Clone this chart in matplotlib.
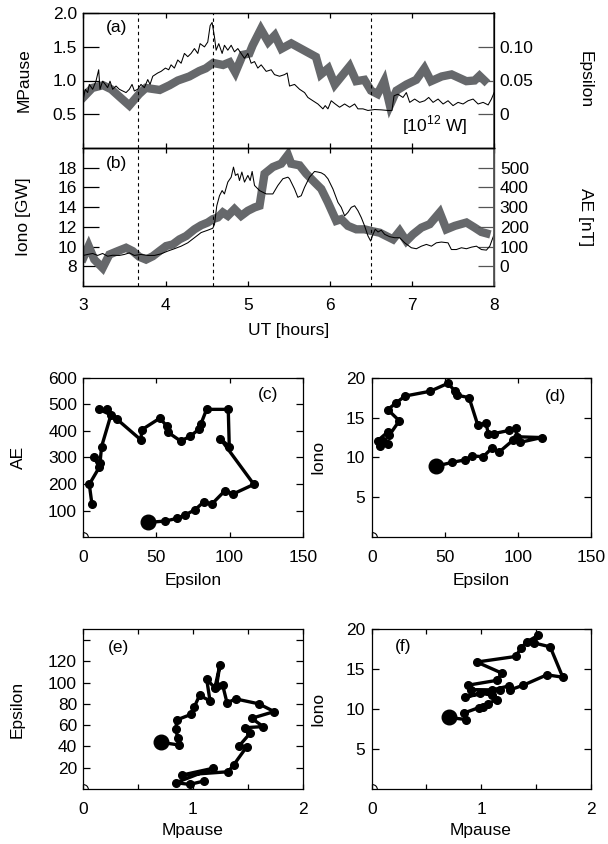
import matplotlib
matplotlib.use('Agg')
import matplotlib.pyplot as plt

plt.rcParams['font.family'] = ['Liberation Sans', 'DejaVu Sans']
plt.rcParams['mathtext.fontset'] = 'custom'
plt.rcParams['mathtext.rm'] = 'Liberation Sans'
plt.rcParams['font.size'] = 12.5

# ---- panel (a): epsilon (thick grey, right axis) and magnetopause (thin black, left axis)
eps_t = [3.00, 3.11, 3.24, 3.34, 3.44, 3.56, 3.68, 3.76, 3.93, 4.05, 4.15, 4.29, 4.41,
         4.49, 4.58, 4.70, 4.78, 4.85, 4.94, 5.02, 5.06, 5.16, 5.25, 5.33, 5.41, 5.53,
         5.65, 5.83, 5.89, 5.98, 6.06, 6.24, 6.32, 6.42, 6.50, 6.58, 6.66, 6.73, 6.81,
         6.93, 7.05, 7.15, 7.23, 7.36, 7.48, 7.66, 7.76, 7.82, 7.88]
eps_v = [0.025, 0.039, 0.043, 0.037, 0.026, 0.013, 0.030, 0.039, 0.036, 0.043, 0.050,
         0.056, 0.064, 0.068, 0.076, 0.073, 0.077, 0.062, 0.088, 0.090, 0.102, 0.126,
         0.107, 0.117, 0.097, 0.105, 0.097, 0.085, 0.059, 0.068, 0.044, 0.071, 0.049,
         0.051, 0.035, 0.030, 0.049, 0.013, 0.035, 0.044, 0.051, 0.068, 0.049, 0.056,
         0.059, 0.049, 0.050, 0.057, 0.050]

mp_t = [3.000, 3.024, 3.053, 3.073, 3.114, 3.154, 3.187, 3.203, 3.235, 3.268, 3.296,
        3.325, 3.357, 3.398, 3.438, 3.479, 3.520, 3.560, 3.593, 3.621, 3.662, 3.702,
        3.743, 3.784, 3.812, 3.845, 3.905, 3.946, 3.999, 4.039, 4.068, 4.108, 4.149,
        4.190, 4.230, 4.271, 4.311, 4.352, 4.393, 4.421, 4.474, 4.514, 4.543, 4.567,
        4.596, 4.616, 4.648, 4.689, 4.717, 4.758, 4.799, 4.839, 4.880, 4.920, 4.961,
        5.002, 5.042, 5.083, 5.123, 5.164, 5.225, 5.286, 5.326, 5.387, 5.448, 5.480,
        5.509, 5.570, 5.631, 5.692, 5.732, 5.793, 5.854, 5.915, 5.943, 5.976, 6.016,
        6.065, 6.118, 6.179, 6.240, 6.301, 6.341, 6.402, 6.463, 6.544, 6.625, 6.707,
        6.755, 6.780, 6.828, 6.889, 6.930, 6.971, 7.031, 7.092, 7.153, 7.202, 7.255,
        7.316, 7.377, 7.437, 7.498, 7.559, 7.620, 7.681, 7.742, 7.803, 7.864, 7.925,
        7.965, 7.998]
mp_v = [0.725, 0.870, 0.821, 0.942, 0.870, 0.990, 1.159, 0.870, 0.990, 0.942, 0.894,
        0.990, 0.870, 0.918, 0.870, 0.845, 0.821, 0.870, 0.942, 0.845, 0.870, 0.942,
        0.894, 1.014, 0.942, 1.063, 1.111, 1.135, 1.184, 1.159, 1.232, 1.184, 1.304,
        1.256, 1.401, 1.353, 1.401, 1.473, 1.401, 1.546, 1.498, 1.570, 1.812, 1.860,
        1.643, 1.449, 1.546, 1.401, 1.522, 1.449, 1.522, 1.425, 1.473, 1.401, 1.329,
        1.401, 1.256, 1.280, 1.184, 1.232, 1.135, 1.159, 1.087, 1.063, 1.087, 1.111,
        0.918, 0.942, 0.870, 0.821, 0.749, 0.700, 0.652, 0.580, 0.628, 0.580, 0.700,
        0.652, 0.604, 0.652, 0.604, 0.652, 0.580, 0.580, 0.556, 0.570, 0.565, 0.556,
        0.556, 0.773, 0.797, 0.749, 0.821, 0.676, 0.725, 0.676, 0.700, 0.749, 0.676,
        0.725, 0.652, 0.700, 0.628, 0.676, 0.652, 0.700, 0.725, 0.652, 0.676, 0.638,
        0.725, 0.821]

# ---- panel (b): ionospheric power (thick grey, left) and AE (thin black, right)
iono_t = [3.000, 3.065, 3.134, 3.235, 3.317, 3.418, 3.520, 3.601, 3.682, 3.763, 3.845,
          3.926, 4.007, 4.088, 4.170, 4.251, 4.352, 4.433, 4.514, 4.575, 4.636, 4.697,
          4.758, 4.839, 4.920, 5.002, 5.083, 5.144, 5.205, 5.306, 5.408, 5.489, 5.529,
          5.631, 5.712, 5.813, 5.895, 5.976, 6.077, 6.138, 6.219, 6.321, 6.422, 6.504,
          6.605, 6.686, 6.768, 6.849, 6.930, 7.011, 7.113, 7.214, 7.336, 7.417, 7.519,
          7.661, 7.762, 7.843, 7.904]
iono_v = [8.85, 10.05, 8.68, 7.83, 9.19, 9.54, 9.88, 9.54, 8.96, 8.68, 9.02, 9.54, 10.05,
          10.22, 10.73, 11.07, 11.75, 12.16, 12.44, 12.78, 12.95, 13.46, 13.12, 13.80,
          13.12, 13.63, 13.97, 14.14, 17.39, 18.07, 18.41, 19.30, 18.41, 18.24, 17.39,
          16.53, 15.85, 14.48, 12.61, 12.78, 12.10, 11.75, 11.75, 11.58, 11.41, 11.07,
          10.73, 11.58, 10.56, 11.24, 11.92, 12.27, 13.46, 11.75, 12.10, 12.44, 11.92,
          11.48, 11.34]

ae_t = [3.000, 3.053, 3.114, 3.175, 3.235, 3.296, 3.357, 3.438, 3.499, 3.560, 3.621,
        3.702, 3.784, 3.865, 3.946, 4.027, 4.108, 4.190, 4.271, 4.352, 4.433, 4.514,
        4.575, 4.596, 4.624, 4.657, 4.689, 4.717, 4.758, 4.799, 4.827, 4.851, 4.880,
        4.900, 4.929, 4.961, 5.002, 5.030, 5.054, 5.083, 5.144, 5.225, 5.306, 5.367,
        5.428, 5.489, 5.509, 5.570, 5.610, 5.651, 5.692, 5.752, 5.813, 5.854, 5.895,
        5.935, 5.976, 6.037, 6.098, 6.138, 6.179, 6.219, 6.260, 6.301, 6.341, 6.382,
        6.422, 6.463, 6.496, 6.524, 6.552, 6.585, 6.625, 6.666, 6.727, 6.788, 6.849,
        6.910, 6.991, 7.052, 7.113, 7.174, 7.235, 7.295, 7.356, 7.437, 7.478, 7.539,
        7.600, 7.661, 7.722, 7.783, 7.843, 7.904, 7.945, 7.998]
ae_v = [55, 60, 65, 55, 65, 51, 56, 55, 60, 68, 55, 60, 55, 55, 63, 77, 89, 102, 119,
        145, 171, 183, 193, 213, 307, 358, 384, 367, 427, 452, 503, 461, 469, 435, 478,
        427, 461, 435, 481, 410, 384, 367, 367, 410, 444, 452, 444, 392, 350, 358, 401,
        452, 481, 478, 474, 464, 444, 392, 324, 299, 256, 273, 299, 307, 282, 247, 205,
        154, 128, 162, 188, 174, 183, 162, 150, 145, 145, 119, 94, 89, 102, 111, 102,
        119, 123, 119, 85, 85, 94, 89, 97, 102, 85, 82, 102, 162]

event_times = [3.67, 4.58, 6.5]

# ---- scatter panels
c_eps = [44.4, 55.8, 64.2, 69.5, 76.3, 82.5, 87.7, 96.8, 102.5, 116.6, 93.8, 99.8, 99.1,
         84.3, 80.4, 79.0, 72.9, 66.5, 58.1, 56.9, 52.4, 39.9, 39.4, 22.8, 16.4, 10.9,
         18.9, 12.5, 11.4, 7.5, 10.9, 4.1, 5.9]
c_ae = [56, 61, 71, 84, 103, 134, 124, 175, 163, 199, 370, 341, 481, 481, 426, 406, 379,
        362, 394, 419, 448, 404, 366, 445, 481, 481, 460, 341, 278, 300, 263, 199, 125]

d_eps = [43.8, 55.3, 63.9, 68.5, 76.4, 82.2, 87.4, 97.0, 101.6, 116.4, 99.3, 98.8, 94.3,
         83.8, 79.9, 78.3, 72.6, 66.7, 58.7, 57.1, 52.3, 40.0, 22.8, 16.4, 11.0, 18.9,
         12.1, 11.0, 4.1, 5.7, 11.4, 7.5]
d_iono = [8.9, 9.4, 9.7, 10.2, 10.1, 11.15, 10.7, 12.2, 11.9, 12.5, 12.6, 13.66, 13.4,
          13.0, 12.95, 14.3, 14.1, 17.5, 17.8, 18.3, 19.3, 18.3, 17.7, 16.8, 16.0, 14.6,
          12.8, 13.2, 12.1, 11.5, 11.7, 12.1]

e_mp = [0.71, 0.875, 0.86, 0.845, 0.85, 0.98, 1.01, 1.06, 1.155, 1.125, 1.20, 1.245,
        1.215, 1.27, 1.31, 1.39, 1.60, 1.74, 1.535, 1.64, 1.475, 1.52, 1.42, 1.49, 1.37,
        1.32, 0.90, 1.18, 0.845, 0.97, 1.10]
e_eps = [43.8, 41.3, 47.6, 56.0, 64.8, 70.0, 76.7, 88.0, 82.7, 103.0, 95.0, 116.5, 96.8,
         97.7, 81.0, 84.6, 80.0, 72.7, 66.4, 58.6, 57.6, 52.3, 40.4, 39.7, 22.5, 16.2,
         13.1, 19.4, 5.9, 4.3, 7.5]

f_mp = [0.706, 0.86, 0.84, 0.98, 1.02, 1.065, 1.14, 1.10, 0.99, 0.85, 1.17, 0.91, 0.88,
        1.14, 1.19, 0.96, 1.315, 1.36, 1.415, 1.52, 1.48, 1.63, 1.745, 1.60, 1.385, 1.26,
        1.25, 1.10]
f_iono = [8.96, 8.7, 9.5, 10.2, 10.3, 10.7, 11.2, 11.75, 12.0, 11.5, 12.4, 12.45, 13.0,
          13.6, 14.5, 15.9, 16.6, 17.6, 18.4, 19.25, 18.3, 17.8, 14.0, 14.3, 13.0, 12.4,
          12.9, 12.4]

GREY = '#66686b'
W, H = 608, 844


def box(l, r, t, b):
    return [l / W, 1 - b / H, (r - l) / W, (b - t) / H]


def ftext(x, y, s, **kw):
    fig.text(x / W, 1 - y / H, s, ha='center', va='center', **kw)


def style_spines(ax):
    for s in ax.spines.values():
        s.set_linewidth(0.9)


fig = plt.figure(figsize=(6.08, 8.44), dpi=100)

axA = fig.add_axes(box(83.3, 494.3, 13, 148))
axB = fig.add_axes(box(83.3, 494.3, 148, 286))
axA2 = axA.twinx()
axB2 = axB.twinx()

# (a)
axA.set_zorder(2)
axA2.set_zorder(1)
axA.patch.set_visible(False)
axA2.plot(eps_t, eps_v, color=GREY, lw=6, solid_joinstyle='miter')
axA.plot(mp_t, mp_v, color='black', lw=0.75)
axA.set_xlim(3, 8)
axA.set_ylim(0, 2.0)
axA2.set_ylim(-0.05, 0.15)
axA.set_yticks([0.5, 1.0, 1.5, 2.0])
axA.set_yticklabels(['0.5', '1.0', '1.5', '2.0'])
axA2.set_yticks([0, 0.05, 0.10])
axA2.set_yticklabels(['0', '0.05', '0.10'])
axA.text(3.4, 1.79, '(a)', ha='center', va='center')
axA.text(7.27, 0.34, '[10$^{12}$ W]', ha='center', va='center')

# (b)
axB.plot(iono_t, iono_v, color=GREY, lw=6, solid_joinstyle='miter')
axB2.plot(ae_t, ae_v, color='black', lw=0.75)
axB.set_xlim(3, 8)
axB.set_ylim(6, 20)
axB2.set_ylim(-100, 600)
axB.set_yticks([8, 10, 12, 14, 16, 18])
axB2.set_yticks([0, 100, 200, 300, 400, 500])
axB.text(3.4, 18.4, '(b)', ha='center', va='center')

for ax in (axA, axB):
    for t in event_times:
        ax.axvline(t, color='black', lw=0.8, ls=(0, (3, 3)), zorder=3)
    ax.set_xticks([3, 4, 5, 6, 7, 8])
    ax.tick_params(axis='x', direction='in', top=True, bottom=True, length=3.8,
                   width=0.9, pad=9)
    ax.tick_params(axis='y', direction='in', left=True, right=False, length=11.5,
                   width=0.9, pad=4.5)
    style_spines(ax)
for ax in (axA2, axB2):
    ax.tick_params(axis='y', direction='in', left=False, right=True, length=11.5,
                   width=0.9, pad=4, color='#555555')
    style_spines(ax)
    ax.spines['right'].set_color('#555555')
    ax.spines['right'].set_linewidth(1.3)
axA.tick_params(axis='x', labelbottom=False)

ftext(24, 80, 'MPause', rotation=90)
ftext(24, 217, 'Iono [GW]', rotation=90)
ftext(585, 80, 'Epsilon', rotation=270)
ftext(585, 217, 'AE [nT]', rotation=270)
ftext(289, 331, 'UT [hours]')

# scatter panels
axC = fig.add_axes(box(83.3, 302.7, 377.7, 537.3))
axD = fig.add_axes(box(371.7, 590.7, 377.7, 537.3))
axE = fig.add_axes(box(83.3, 302.7, 629.3, 789))
axF = fig.add_axes(box(371.7, 590.7, 629.3, 789))

panels = [
    (axC, c_eps, c_ae, '(c)', (126, 535)),
    (axD, d_eps, d_iono, '(d)', (125.6, 17.6)),
    (axE, e_mp, e_eps, '(e)', (0.32, 133)),
    (axF, f_mp, f_iono, '(f)', (0.29, 17.8)),
]
for ax, xs, ys, lab, lpos in panels:
    ax.plot(xs, ys, color='black', lw=2.4, marker='o', ms=5.5, zorder=3)
    ax.plot(xs[0], ys[0], 'o', color='black', ms=10.5, zorder=4)
    ax.plot([0], [0], 'o', ms=7, mfc='none', mec='black', mew=0.8)
    ax.text(lpos[0], lpos[1], lab, ha='center', va='center')
    ax.tick_params(axis='x', direction='in', top=True, bottom=True, length=3.6,
                   width=0.9, pad=9.5)
    ax.tick_params(axis='y', direction='in', left=True, right=True, length=5,
                   width=0.9, pad=4.5)
    style_spines(ax)

for ax in (axC, axD):
    ax.set_xlim(0, 150)
    ax.set_xticks([0, 50, 100, 150])
axC.set_ylim(0, 600)
axC.set_yticks([100, 200, 300, 400, 500, 600])
axD.set_ylim(0, 20)
axD.set_yticks([5, 10, 15, 20])

for ax in (axE, axF):
    ax.set_xlim(0, 2)
    ax.set_xticks([0, 0.5, 1, 1.5, 2])
    ax.set_xticklabels(['0', '', '1', '', '2'])
axE.set_ylim(0, 150)
axE.set_yticks([20, 40, 60, 80, 100, 120, 140])
axE.set_yticklabels(['20', '40', '60', '80', '100', '120', ''])
axF.set_ylim(0, 20)
axF.set_yticks([5, 10, 15, 20])

ftext(18, 457, 'AE', rotation=90)
ftext(193, 580, 'Epsilon')
ftext(318, 457, 'Iono', rotation=90)
ftext(481, 580, 'Epsilon')
ftext(17, 709, 'Epsilon', rotation=90)
ftext(193, 830, 'Mpause')
ftext(318, 709, 'Iono', rotation=90)
ftext(481, 830, 'Mpause')

fig.savefig('out.png', dpi=100)
